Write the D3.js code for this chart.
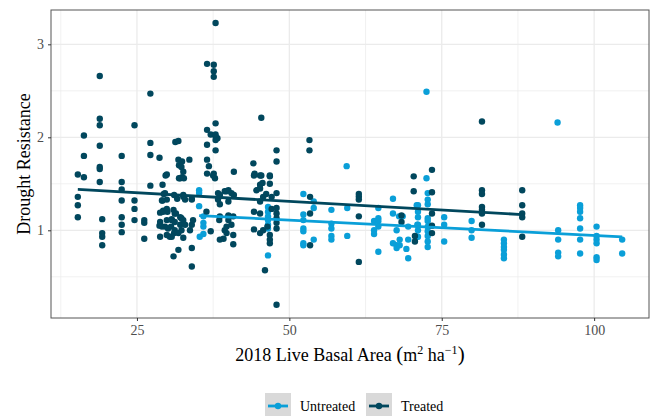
<!DOCTYPE html>
<html>
<head>
<meta charset="utf-8">
<script src="https://cdn.jsdelivr.net/npm/d3@7"></script>
<style>
  body { margin: 0; background: #fff; }
  svg { display: block; font-family: "Liberation Serif", "DejaVu Serif", serif; }
</style>
</head>
<body>
<div id="chart"></div>
<script>
var width = 655;
var height = 416;
var margin = {left: 51, right: 6, top: 10, bottom: 98};

var groups = ["Untreated", "Treated"];
var colors = ["#0a9fd8", "#01475d"];

// points: [basal area, drought resistance]
var untreated = [
  [35.2,1.43],[35.2,1.40],[35.2,1.26],[35.9,1.15],[35.9,1.08],[35.9,1.04],[35.9,0.96],[35.3,0.93],
  [46.5,1.25],[46.5,1.20],[46.5,1.15],[46.5,1.11],[46.5,1.06],[46.5,1.02],[46.5,0.73],
  [52.3,1.39],[52.3,1.17],[52.3,1.11],[52.3,1.02],[52.3,0.99],[52.3,0.86],[52.3,0.84],
  [54.0,1.31],[54.0,1.24],[54.0,0.90],
  [56.9,1.22],[56.9,1.07],[56.9,1.02],[56.9,0.94],[56.9,0.90],
  [59.4,1.69],[59.5,1.24],[59.5,0.94],
  [63.9,1.10],[63.9,1.00],[63.9,0.96],
  [64.6,1.24],[64.6,1.13],[64.6,1.10],[64.6,1.04],[64.6,0.77],
  [67.0,1.34],[67.0,1.18],[67.0,0.86],[67.6,1.00],[67.6,0.84],[67.6,0.81],
  [68.1,0.90],[68.1,0.84],[68.0,1.15],[68.6,1.15],
  [69.5,1.04],[69.5,0.90],[69.2,0.80],[69.5,0.70],
  [70.9,1.27],[71.0,1.06],[71.0,0.93],
  [71.1,1.27],[71.1,1.20],[71.1,1.14],[71.1,1.06],[71.1,1.00],[71.1,0.93],
  [72.5,2.49],[72.5,1.56],[72.7,1.40],[72.7,1.33],[72.7,1.28],[72.7,1.13],[72.7,1.10],
  [72.7,1.04],[72.7,0.99],[72.7,0.94],[72.7,0.88],[72.7,0.82],
  [75.4,1.14],[75.4,1.06],[75.4,0.88],
  [79.9,1.10],[79.9,1.00],[79.9,0.92],
  [85.2,0.90],[85.2,0.86],[85.2,0.82],[85.2,0.79],[85.2,0.74],[85.2,0.70],
  [94.0,2.16],[94.1,1.00],[94.1,0.90],[94.1,0.76],[94.1,0.72],
  [97.7,1.27],[97.7,1.24],[97.7,1.20],[97.7,1.13],[97.7,1.02],[97.7,0.90],[97.7,0.75],
  [100.4,1.04],[100.4,0.94],[100.4,0.90],[100.4,0.86],[100.4,0.71],[100.4,0.68],
  [104.6,0.90],[104.6,0.75]
];

var treated = [
  [15.3,1.60],[15.3,1.36],[15.3,1.27],[15.3,1.14],
  [16.3,2.02],[16.3,1.80],[16.3,1.57],
  [18.9,2.66],[18.9,2.20],[18.9,2.13],[18.9,1.91],[18.9,1.68],[18.9,1.66],[18.9,1.52],
  [19.3,1.12],[19.3,0.97],[19.3,0.93],[19.3,0.84],
  [22.5,1.80],[22.5,1.52],[22.5,1.44],[22.5,1.32],[22.5,1.14],[22.5,1.06],[22.5,0.98],
  [24.6,2.13],[24.6,1.32],[24.6,1.23],[24.6,1.11],
  [26.2,1.11],[26.2,1.08],[26.2,0.91],
  [27.2,2.47],[27.2,1.94],[27.2,1.81],[27.2,1.48],
  [28.7,1.78],[29.9,1.60],
  [29.2,1.49],[29.7,1.59],[29.6,1.40],[29.2,1.32],[28.8,1.19],[29.3,1.21],[30.0,1.20],[28.7,1.05],
  [30.7,1.11],[31.2,1.18],[29.6,1.04],[30.6,1.04],[29.9,0.95],[30.4,0.93],[31.1,0.97],[31.8,0.79],
  [31.0,0.72],[31.9,1.56],[32.4,1.57],[32.6,1.36],[32.3,1.13],[32.1,1.06],[31.3,1.95],[31.8,1.96],
  [31.8,1.76],[31.9,1.70],[32.3,1.68],[29.4,1.39],[29.9,1.33],[31.1,1.38],[31.6,1.34],[32.6,1.38],
  [32.9,1.33],[34.0,1.33],[29.1,1.32],[29.3,1.20],[29.9,1.23],[31.0,1.22],[31.4,1.18],[28.8,1.09],
  [29.9,1.11],[30.7,1.12],[31.2,1.09],[32.1,1.14],[32.6,1.11],[32.9,1.06],[34.0,1.06],[34.2,1.11],
  [29.1,1.04],[30.1,1.02],[31.2,1.00],[32.3,1.00],[33.7,1.00],[28.8,0.93],[30.7,0.93],[31.8,0.97],
  [32.6,0.92],[32.4,1.74],[33.6,1.76],[32.6,1.63],[32.1,1.56],[32.7,1.56],[34.0,0.81],[34.0,0.61],
  [34.0,1.34],
  [36.5,1.92],[37.9,2.01],[38.2,1.99],[37.9,1.86],[36.5,1.76],[36.8,1.69],[36.5,1.61],[37.6,1.61],
  [37.8,1.56],[38.3,1.40],[39.4,1.42],[40.0,1.43],[38.3,1.33],[40.0,1.31],[38.5,1.11],[40.0,1.15],
  [39.4,1.00],[39.2,0.91],[36.4,1.20],
  [37.9,3.23],[36.5,2.79],[37.6,2.78],[37.6,2.71],[37.6,2.65],[37.9,2.15],[36.5,2.08],[37.1,2.03],
  [37.9,2.03],[37.9,1.97],[37.5,1.59],
  [38.6,1.38],[38.6,1.28],[39.7,1.42],[40.5,1.40],[40.9,1.38],[38.6,1.15],[40.0,1.16],[40.0,1.11],
  [40.8,1.15],[39.7,1.04],[40.5,1.06],[40.8,0.95],[39.7,0.97],[38.6,0.90],[40.8,0.85],[37.1,0.99],
  [40.9,1.63],
  [45.4,2.21],[44.1,1.72],[44.3,1.61],[45.4,1.59],[47.9,1.86],[47.9,1.74],[46.8,1.59],
  [44.2,1.59],[45.2,1.59],[46.8,1.58],[45.2,1.49],[45.6,1.51],[46.8,1.50],[45.2,1.45],[44.6,1.43],
  [45.2,1.31],[45.7,1.36],[46.2,1.39],[47.1,1.36],[47.9,1.40],[44.2,1.20],[45.2,1.18],[47.1,1.23],
  [47.9,1.24],[47.9,1.18],[47.9,1.13],[44.2,1.01],[45.2,0.97],[45.7,1.00],[46.4,1.04],[46.8,0.95],
  [46.8,0.90],[46.8,0.86],[47.9,1.02],[47.9,1.08],[46.0,0.57],[47.9,0.20],
  [53.3,1.97],[53.3,1.86],[53.4,1.36],[53.4,1.18],[53.4,0.84],
  [61.4,1.39],[61.4,1.36],[61.4,1.33],[61.4,1.15],[61.4,0.66],
  [70.4,1.58],[70.4,1.42],[68.4,1.16],[68.4,1.09],[70.6,0.94],[70.6,0.88],
  [73.4,1.65],[73.4,1.41],[73.4,1.18],[73.4,1.05],[73.4,0.97],
  [81.6,2.17],[81.6,1.43],[81.6,1.39],[81.6,1.25],[81.6,1.22],[81.6,1.18],[81.6,1.06],
  [88.2,1.43],[88.2,1.27],[88.2,1.18],[88.2,1.14],[88.2,0.93]
];

// fitted lines: [intercept, slope]
var fitUntreated = [1.275, -0.0033];
var fitTreated = [1.496, -0.0037];

var xTicks = [25, 50, 75, 100];
var xMinor = [12.5, 37.5, 62.5, 87.5];
var yTicks = [1, 2, 3];
var yMinor = [0.5, 1.5, 2.5];

var svg = d3.select("#chart").append("svg")
  .attr("width", width)
  .attr("height", height);

var x = d3.scaleLinear().domain([10.9, 109.0]).range([margin.left, width - margin.right]);
var y = d3.scaleLinear().domain([0.057, 3.369]).range([height - margin.bottom, margin.top]);

var plot = svg.append("g");

// grid
plot.selectAll("line.xminor").data(xMinor).enter().append("line")
  .attr("x1", d => x(d)).attr("x2", d => x(d))
  .attr("y1", y.range()[0]).attr("y2", y.range()[1])
  .attr("stroke", "#ebebeb").attr("stroke-width", 0.7);
plot.selectAll("line.yminor").data(yMinor).enter().append("line")
  .attr("y1", d => y(d)).attr("y2", d => y(d))
  .attr("x1", x.range()[0]).attr("x2", x.range()[1])
  .attr("stroke", "#ebebeb").attr("stroke-width", 0.7);
plot.selectAll("line.xmajor").data(xTicks).enter().append("line")
  .attr("x1", d => x(d)).attr("x2", d => x(d))
  .attr("y1", y.range()[0]).attr("y2", y.range()[1])
  .attr("stroke", "#ebebeb").attr("stroke-width", 1.3);
plot.selectAll("line.ymajor").data(yTicks).enter().append("line")
  .attr("y1", d => y(d)).attr("y2", d => y(d))
  .attr("x1", x.range()[0]).attr("x2", x.range()[1])
  .attr("stroke", "#ebebeb").attr("stroke-width", 1.3);

// points
var series = [untreated, treated];
series.forEach(function(pts, i) {
  plot.append("g").selectAll("circle").data(pts).enter().append("circle")
    .attr("cx", d => x(d[0]))
    .attr("cy", d => y(d[1]))
    .attr("r", 3.2)
    .attr("fill", colors[i]);
});

// fit lines
var fits = [fitUntreated, fitTreated];
series.forEach(function(pts, i) {
  var ext = d3.extent(pts, d => d[0]);
  var f = fits[i];
  plot.append("line")
    .attr("x1", x(ext[0])).attr("y1", y(f[0] + f[1] * ext[0]))
    .attr("x2", x(ext[1])).attr("y2", y(f[0] + f[1] * ext[1]))
    .attr("stroke", colors[i]).attr("stroke-width", 2.8);
});

// panel border
plot.append("rect")
  .attr("x", x.range()[0]).attr("y", y.range()[1])
  .attr("width", x.range()[1] - x.range()[0])
  .attr("height", y.range()[0] - y.range()[1])
  .attr("fill", "none").attr("stroke", "#555").attr("stroke-width", 1);

// axes
var xAxis = svg.append("g")
  .attr("transform", "translate(0," + y.range()[0] + ")")
  .call(d3.axisBottom(x).tickValues(xTicks).tickFormat(d3.format("d")).tickSize(3).tickPadding(4));
var yAxis = svg.append("g")
  .attr("transform", "translate(" + x.range()[0] + ",0)")
  .call(d3.axisLeft(y).tickValues(yTicks).tickFormat(d3.format("d")).tickSize(3).tickPadding(4));
[xAxis, yAxis].forEach(function(a) {
  a.attr("font-size", null).attr("font-family", null);
  a.select(".domain").remove();
  a.selectAll(".tick line").attr("stroke", "#333");
  a.selectAll(".tick text")
    .attr("fill", "#4d4d4d")
    .style("font-size", "14px")
    .style("font-family", "Liberation Serif");
});

// axis titles
var xt = svg.append("text")
  .attr("x", (x.range()[0] + x.range()[1]) / 2)
  .attr("y", 361)
  .attr("text-anchor", "middle")
  .style("font-size", "18px")
  .attr("fill", "#000");
xt.append("tspan").text("2018 Live Basal Area ");
xt.append("tspan").text("(").style("font-size", "21px");
xt.append("tspan").text("m");
xt.append("tspan").text("2").attr("dy", -7).style("font-size", "12px");
xt.append("tspan").text(" ha").attr("dy", 7);
xt.append("tspan").text("\u22121").attr("dy", -7).style("font-size", "12px");
xt.append("tspan").text(")").attr("dy", 7).style("font-size", "21px");

svg.append("text")
  .attr("transform", "translate(30," + ((y.range()[0] + y.range()[1]) / 2) + ") rotate(-90)")
  .attr("text-anchor", "middle")
  .style("font-size", "18px")
  .attr("fill", "#000")
  .text("Drought Resistance");

// legend
var legendX = [265, 366];
groups.forEach(function(g, i) {
  var lg = svg.append("g").attr("transform", "translate(" + legendX[i] + ",393)");
  lg.append("rect").attr("width", 26).attr("height", 26).attr("fill", "#d9d9d9");
  lg.append("line").attr("x1", 3).attr("x2", 23).attr("y1", 13).attr("y2", 13)
    .attr("stroke", colors[i]).attr("stroke-width", 2.8);
  lg.append("circle").attr("cx", 13).attr("cy", 13).attr("r", 3.2).attr("fill", colors[i]);
  lg.append("text").attr("x", 35).attr("y", 18)
    .style("font-size", "14px").attr("fill", "#000").text(g);
});
</script>
</body>
</html>
